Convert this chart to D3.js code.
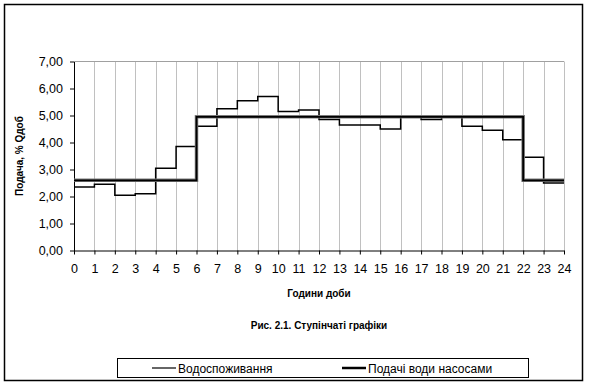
<!DOCTYPE html>
<html>
<head>
<meta charset="utf-8">
<script src="https://cdn.jsdelivr.net/npm/d3@7"></script>
<style>
  body { margin: 0; background: #fff; }
  text { font-family: "Liberation Sans", Arial, sans-serif; fill: #000; }
  .axisText { font-size: 10px; font-weight: bold; }
  .tick text { font-size: 12.5px; }
</style>
</head>
<body>
<div id="chart"></div>
<script>
var svgWidth = 590;
var svgHeight = 386;

// hours of the day and the two step series (% of daily volume)
var hours = d3.range(0, 25);
var consumption = [2.35, 2.45, 2.05, 2.10, 3.05, 3.85, 4.60, 5.25, 5.55, 5.70, 5.15, 5.20,
                   4.85, 4.65, 4.65, 4.50, 4.95, 4.85, 4.95, 4.60, 4.45, 4.10, 3.45, 2.50];
var pumping = [2.60, 2.60, 2.60, 2.60, 2.60, 2.60, 4.95, 4.95, 4.95, 4.95, 4.95, 4.95,
               4.95, 4.95, 4.95, 4.95, 4.95, 4.95, 4.95, 4.95, 4.95, 4.95, 2.60, 2.60];
var yTicks = [0, 1, 2, 3, 4, 5, 6, 7];

var seriesNames = ["Водоспоживання", "Подачі води насосами"];

var margin = { top: 61.5, left: 74, right: 26, bottom: 135.5 };
var width = svgWidth - margin.left - margin.right;
var height = svgHeight - margin.top - margin.bottom;

var svg = d3.select("#chart")
  .append("svg")
  .attr("width", svgWidth)
  .attr("height", svgHeight);

// outer frame
svg.append("rect")
  .attr("x", 4.5).attr("y", 4.5)
  .attr("width", 578).attr("height", 376)
  .attr("fill", "none")
  .attr("stroke", "#000")
  .attr("stroke-width", 1.5);

var chartGroup = svg.append("g")
  .attr("transform", `translate(${margin.left}, ${margin.top})`);

var xScale = d3.scaleLinear().domain([0, 24]).range([0, width]);
var yScale = d3.scaleLinear().domain([0, 7]).range([height, 0]);

// vertical grid lines
chartGroup.selectAll(".grid")
  .data(hours.slice(1))
  .enter()
  .append("line")
  .attr("x1", d => Math.round(xScale(d)) + 0.5)
  .attr("x2", d => Math.round(xScale(d)) + 0.5)
  .attr("y1", 0)
  .attr("y2", height)
  .attr("stroke", "#c0c0c0")
  .attr("stroke-width", 1);

// top border of plot area
chartGroup.append("line")
  .attr("x1", 0).attr("x2", width)
  .attr("y1", 0).attr("y2", 0)
  .attr("stroke", "#a0a0a0");

// axes
var bottomAxis = d3.axisBottom(xScale)
  .tickValues(hours)
  .tickFormat(d3.format("d"))
  .tickSize(4)
  .tickSizeOuter(0)
  .tickPadding(10);

var leftAxis = d3.axisLeft(yScale)
  .tickValues(yTicks)
  .tickFormat(d => d.toFixed(2).replace(".", ","))
  .tickSize(4)
  .tickSizeOuter(0)
  .tickPadding(7);

chartGroup.append("g")
  .attr("transform", `translate(0, ${height})`)
  .call(bottomAxis)
  .call(g => g.selectAll("text").attr("font-family", null).attr("font-size", null));

chartGroup.append("g")
  .call(leftAxis)
  .call(g => g.selectAll("text").attr("font-family", null).attr("font-size", null));

// step lines
var stepLine = d3.line()
  .x((d, i) => xScale(i))
  .y(d => yScale(d))
  .curve(d3.curveStepAfter);

function withEnd(arr) { return arr.concat([arr[arr.length - 1]]); }

chartGroup.append("path")
  .datum(withEnd(consumption))
  .attr("d", stepLine)
  .attr("fill", "none")
  .attr("stroke", "#000")
  .attr("stroke-width", 1.5);

chartGroup.append("path")
  .datum(withEnd(pumping))
  .attr("d", stepLine)
  .attr("fill", "none")
  .attr("stroke", "#7a7a7a")
  .attr("stroke-width", 3.5);

chartGroup.append("path")
  .datum(withEnd(pumping))
  .attr("d", stepLine)
  .attr("fill", "none")
  .attr("stroke", "#000")
  .attr("stroke-width", 1.8);

// axis titles
chartGroup.append("text")
  .attr("class", "axisText")
  .attr("transform", "rotate(-90)")
  .attr("x", -height / 2)
  .attr("y", -51)
  .attr("text-anchor", "middle")
  .text("Подача, % Qдоб");

chartGroup.append("text")
  .attr("class", "axisText")
  .attr("x", width / 2)
  .attr("y", height + 46)
  .attr("text-anchor", "middle")
  .text("Години доби");

svg.append("text")
  .attr("class", "axisText")
  .attr("x", margin.left + width / 2)
  .attr("y", 329)
  .attr("text-anchor", "middle")
  .text("Рис. 2.1. Ступінчаті графіки");

// legend
var legend = svg.append("g");
legend.append("rect")
  .attr("x", 117.5).attr("y", 358.5)
  .attr("width", 411).attr("height", 19)
  .attr("fill", "#fff")
  .attr("stroke", "#000");

var legendX = [152, 342];
var legendW = [1.2, 2.5];
seriesNames.forEach(function(name, i) {
  legend.append("line")
    .attr("x1", legendX[i]).attr("x2", legendX[i] + 24)
    .attr("y1", 368).attr("y2", 368)
    .attr("stroke", "#000")
    .attr("stroke-width", legendW[i]);
  legend.append("text")
    .attr("x", legendX[i] + 26)
    .attr("y", 372.5)
    .attr("font-size", "12px")
    .text(name);
});
</script>
</body>
</html>
